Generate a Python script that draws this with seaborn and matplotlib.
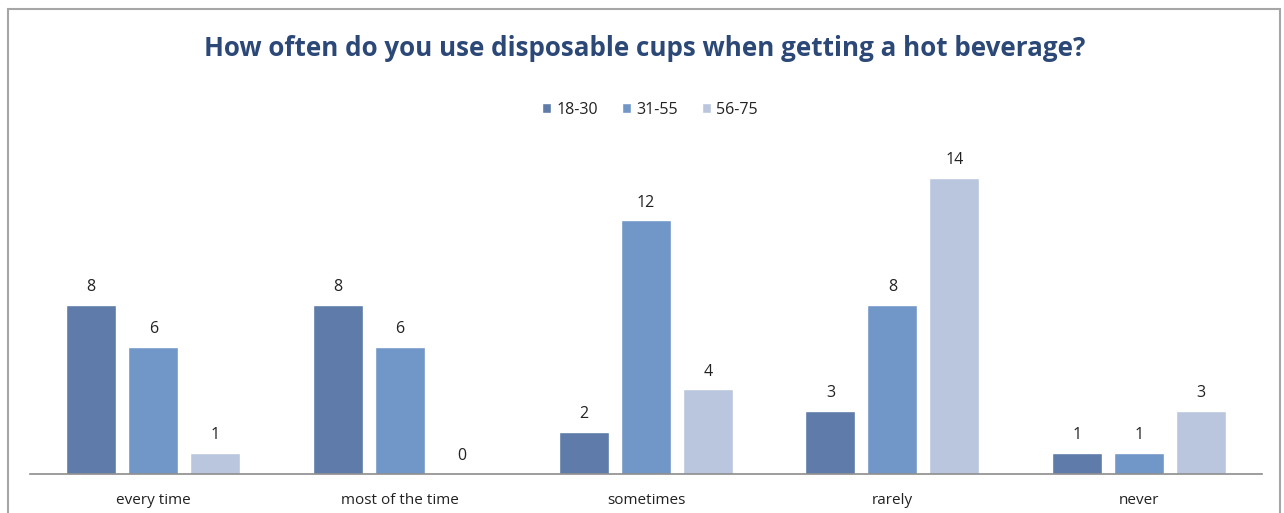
import matplotlib
matplotlib.use("Agg")
import matplotlib.pyplot as plt
from matplotlib.patches import Rectangle
import seaborn as sns
import pandas as pd

categories = ["every time", "most of the time", "sometimes", "rarely", "never"]
age_groups = ["18-30", "31-55", "56-75"]
values_18_30 = [8, 8, 2, 3, 1]
values_31_55 = [6, 6, 12, 8, 1]
values_56_75 = [1, 0, 4, 14, 3]

colors = ["#5E7BA9", "#7196C8", "#B9C6DE"]

df = pd.DataFrame({
    "frequency": categories * 3,
    "age": [g for g in age_groups for _ in categories],
    "count": values_18_30 + values_31_55 + values_56_75,
})

sns.set_theme(style="white")
plt.rcParams["font.family"] = ["Open Sans", "DejaVu Sans"]

fig = plt.figure(figsize=(12.84, 5.13), dpi=100)
ax = fig.add_axes([0.0234, 0.076, 0.9595, 0.6593])

sns.barplot(data=df, x="frequency", y="count", hue="age", order=categories,
            hue_order=age_groups, palette=colors, width=0.755, gap=0.193,
            saturation=1, ax=ax, legend=True)

for cont in ax.containers:
    ax.bar_label(cont, padding=7, fontsize=11.5, color="#222222")

ax.set_ylim(0, 16)
ax.set_xlim(-0.5, 4.5)
ax.set_xlabel("")
ax.set_ylabel("")
ax.set_yticks([])
for s in ["top", "left", "right"]:
    ax.spines[s].set_visible(False)
ax.spines["bottom"].set_color("#8C8C8C")
ax.spines["bottom"].set_linewidth(1.2)
ax.tick_params(axis="x", length=0, pad=14, labelsize=11, labelcolor="#222222")

handles, labels = ax.get_legend_handles_labels()
ax.get_legend().remove()
fig.legend(handles, labels, loc="center", bbox_to_anchor=(0.506, 0.786), ncol=3,
           frameon=False, fontsize=11.5, handlelength=0.6, handleheight=0.6,
           handletextpad=0.3, columnspacing=1.5, labelcolor="#222222")

fig.text(0.502, 0.906, "How often do you use disposable cups when getting a hot beverage?",
         ha="center", va="center", fontsize=18.7, fontweight="bold", color="#2C4877")

fig.patches.append(Rectangle((8 / 1284, -0.1), 1272 / 1284, 1.1 - 9 / 513,
                             transform=fig.transFigure, fill=False,
                             edgecolor="#A6A6A6", linewidth=1.5))

fig.savefig("out.png", dpi=100)
